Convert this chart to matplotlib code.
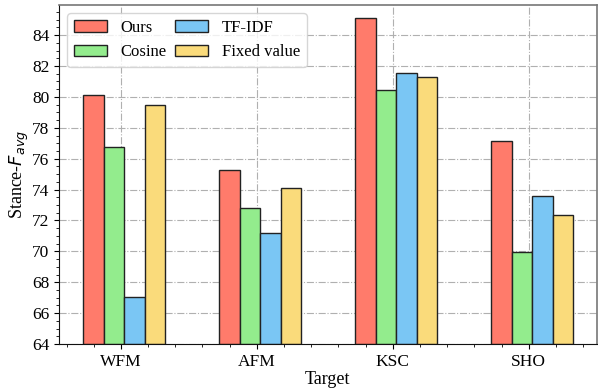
import numpy as np
import matplotlib
matplotlib.use("Agg")
import matplotlib.pyplot as plt
from matplotlib.ticker import AutoMinorLocator, MultipleLocator

plt.rcParams["font.family"] = ["Liberation Serif", "DejaVu Serif"]
plt.rcParams["font.size"] = 12

targets = ["WFM", "AFM", "KSC", "SHO"]
methods = ["Ours", "Cosine", "TF-IDF", "Fixed value"]
ours = [80.15, 75.25, 85.08, 77.12]
cosine = [76.77, 72.78, 80.42, 69.94]
tfidf = [67.02, 71.20, 81.55, 73.60]
fixed = [79.45, 74.07, 81.27, 72.35]
colors = ["#FF7B6B", "#93EC8D", "#7AC6F4", "#FADB7B"]

x = np.arange(len(targets))
width = 0.15

fig = plt.figure(figsize=(5.98, 3.88), dpi=100)
ax = fig.add_axes([0.0987, 0.1134, 0.8993, 0.8737])

for i, (vals, name) in enumerate(zip([ours, cosine, tfidf, fixed], methods)):
    ax.bar(x - 0.2 + i * width, np.array(vals) - 64, width, bottom=64,
           color=colors[i], edgecolor="#222222", linewidth=1.0, label=name)

ax.set_xticks(x)
ax.set_xticklabels(targets)
ax.set_xlim(-0.455, 3.5)
ax.set_ylim(64, 85.95)
ax.yaxis.set_major_locator(MultipleLocator(2))
ax.yaxis.set_minor_locator(AutoMinorLocator(4))
ax.xaxis.set_minor_locator(AutoMinorLocator(5))
ax.tick_params(which="major", length=3.5, width=0.8, labelsize=12.5)
ax.tick_params(which="minor", length=2, width=0.6)

ax.set_axisbelow(True)
ax.grid(True, which="major", linestyle="-.", color="#b0b0b0", linewidth=0.8)

for side in ["left", "bottom"]:
    ax.spines[side].set_color("#111111")
for side in ["top", "right"]:
    ax.spines[side].set_color("#777777")
    ax.spines[side].set_linewidth(1.2)

ax.set_xlabel("Target", fontsize=13, labelpad=1)
ax.set_ylabel("Stance-$F_{avg}$", fontsize=13, labelpad=1)

ax.legend(loc="upper left", ncol=2, fancybox=True, framealpha=0.8,
          edgecolor="#cccccc", columnspacing=0.5, borderaxespad=0.5)

fig.savefig("out.png", dpi=100)
